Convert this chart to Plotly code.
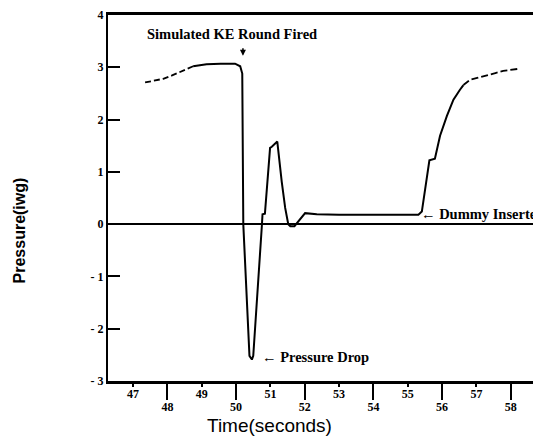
import plotly.graph_objects as go

# ---- data ----
t_left = [47.35, 47.62, 47.88, 48.12, 48.37, 48.55, 48.75]
p_left = [2.71, 2.74, 2.78, 2.84, 2.91, 2.97, 3.02]

t_main = [48.75, 49.14, 49.55, 49.97, 50.12, 50.18, 50.21, 50.39, 50.46, 50.50,
          50.75, 50.77, 50.84, 50.99, 51.04, 51.20, 51.33, 51.43, 51.52, 51.58,
          51.70, 52.01, 52.35, 53.0, 54.0, 55.0, 55.31, 55.41, 55.50, 55.63,
          55.79, 55.94, 56.14, 56.33, 56.52, 56.62]
p_main = [3.02, 3.06, 3.07, 3.07, 3.02, 2.88, 0.0, -2.52, -2.59, -2.52,
          -0.04, 0.19, 0.20, 1.46, 1.48, 1.58, 0.81, 0.31, 0.0, -0.04,
          -0.04, 0.21, 0.19, 0.18, 0.18, 0.18, 0.18, 0.24, 0.62, 1.22,
          1.25, 1.69, 2.07, 2.38, 2.57, 2.66]

t_right = [56.62, 56.81, 57.05, 57.30, 57.55, 57.78, 58.0, 58.22]
p_right = [2.66, 2.76, 2.80, 2.85, 2.89, 2.93, 2.95, 2.97]

even_ticks = [48, 50, 52, 54, 56, 58]
odd_ticks = [47, 49, 51, 53, 55, 57]
y_ticks = [-3, -2, -1, 0, 1, 2, 3, 4]
y_labels = ["- 3", "- 2", "- 1", "0", "1", "2", "3", "4"]

x_range = [46.27, 58.88]

fig = go.Figure()
fig.add_trace(go.Scatter(x=t_left, y=p_left, mode="lines", xaxis="x2",
                         line=dict(color="black", width=1.8, dash="6px,3px")))
fig.add_trace(go.Scatter(x=t_main, y=p_main, mode="lines",
                         line=dict(color="black", width=2)))
fig.add_trace(go.Scatter(x=t_right, y=p_right, mode="lines",
                         line=dict(color="black", width=1.8, dash="7px,3px")))

serif_bold = dict(family="Liberation Serif", size=14.5, color="black", weight="bold")
tick_font = dict(family="Liberation Serif", size=12, color="black", weight="bold")

# page body has an 8px margin: size/margins compensate so the plot lands where the reference has it
fig.update_layout(
    width=533, height=439,
    margin=dict(l=100, r=0, t=2, b=66),
    paper_bgcolor="white", plot_bgcolor="white",
    showlegend=False,
    xaxis=dict(range=x_range, tickvals=even_ticks, ticktext=[str(v) for v in even_ticks],
               ticks="outside", ticklen=16, tickwidth=2, tickcolor="black",
               ticklabelstandoff=-3, ticklabeloverflow="allow",
               showline=True, linewidth=2.5, linecolor="black", mirror=True,
               showgrid=False, zeroline=False, tickfont=tick_font),
    xaxis2=dict(overlaying="x", side="bottom", anchor="y", matches="x",
                tickvals=odd_ticks, ticktext=[str(v) for v in odd_ticks],
                ticks="outside", ticklen=5, tickwidth=1.5, tickcolor="black",
                ticklabelstandoff=-3, ticklabeloverflow="allow",
                showline=False, showgrid=False, zeroline=False, tickfont=tick_font),
    yaxis=dict(range=[-3, 4], tickvals=y_ticks, ticktext=y_labels,
               ticks="inside", ticklen=12, tickwidth=2, tickcolor="black",
               ticklabeloverflow="allow",
               showline=True, linewidth=2, linecolor="black",
               showgrid=False, zeroline=True, zerolinecolor="black", zerolinewidth=2,
               tickfont=tick_font),
)

fig.add_annotation(x=49.88, y=3.63, text="Simulated KE Round Fired", showarrow=False,
                   font=serif_bold, xanchor="center", yanchor="middle")
fig.add_annotation(x=50.20, y=3.22, text="", showarrow=True, ax=0, ay=-9,
                   arrowhead=2, arrowsize=0.8, arrowwidth=1.5, arrowcolor="black")
fig.add_annotation(x=50.70, y=-2.55, text="← Pressure Drop", showarrow=False,
                   font=serif_bold, xanchor="left", yanchor="middle")
fig.add_annotation(x=55.33, y=0.19, text="← Dummy Inserted", showarrow=False,
                   font=serif_bold, xanchor="left", yanchor="middle")

fig.add_annotation(xref="paper", yref="paper", x=(19 - 108) / 433, y=(381 - 228) / 372,
                   text="Pressure(iwg)", textangle=-90, showarrow=False,
                   font=dict(family="Liberation Sans", size=16, color="black", weight="bold"),
                   xanchor="center", yanchor="middle")
fig.add_annotation(xref="paper", yref="paper", x=(269 - 108) / 433, y=(381 - 426) / 372,
                   text="Time(seconds)", showarrow=False,
                   font=dict(family="Liberation Sans", size=19, color="black"),
                   xanchor="center", yanchor="middle")

fig.write_html("out.html")
